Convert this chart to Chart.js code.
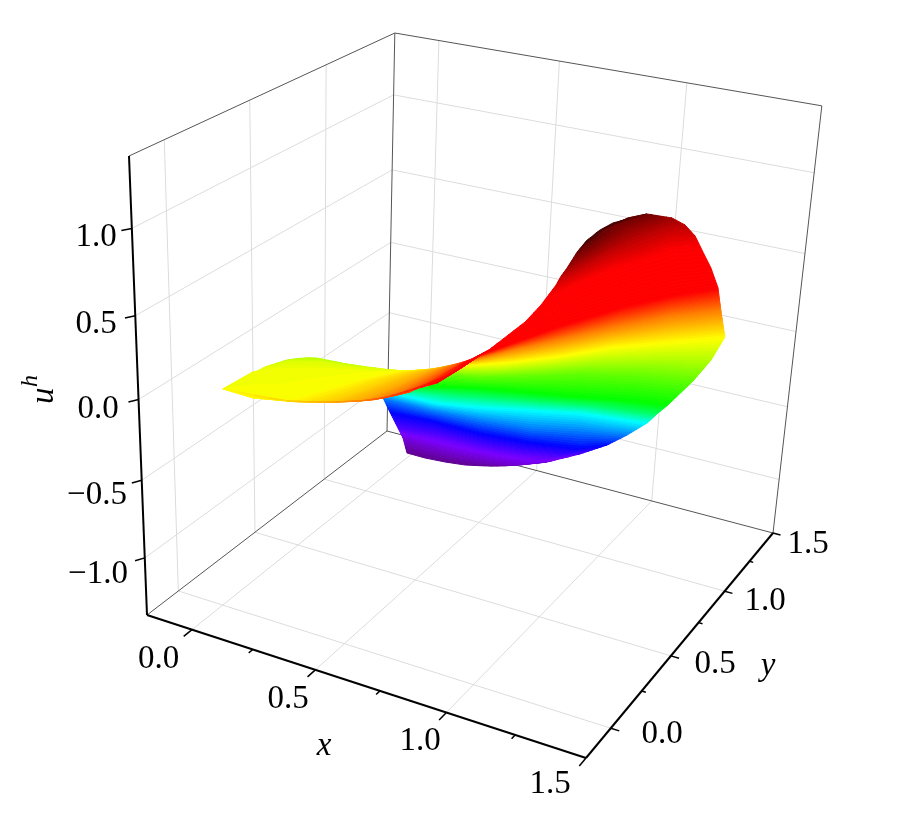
<!DOCTYPE html><html><head><meta charset="utf-8"><style>html,body{margin:0;background:#fff}canvas{display:block}</style>
<script src="https://cdn.jsdelivr.net/npm/chart.js@4"></script></head><body><canvas id="c" width="900" height="818"></canvas>
<script>
const xTicks=[0,0.5,1,1.5], yTicks=[0,0.5,1,1.5], zTicks=[1,0.5,0,-0.5,-1];
const xMinor=[0.25,0.75,1.25], yMinor=[0.25,0.75,1.25];
const xLabels=['0.0','0.5','1.0','1.5'], yLabels=['0.0','0.5','1.0','1.5'], zLabels=['1.0','0.5','0.0','\u22120.5','\u22121.0'];
const xr=[-0.19,1.5], yr=[-0.19,1.5], zr=[-1.38,1.4];
const fanU=[-1.0,-0.9,-0.8,-0.7,-0.58,-0.45,-0.3,-0.2,-0.05,0.08,0.2,0.4,0.6,0.72,0.78,0.85,0.9,0.95,1.03,1.1];
const fanX=[[.196,.275,.356,.433,.501,.566],[.178,.319,.443,.543,.661,.737],[.179,.343,.511,.664,.790,.862],[.145,.307,.519,.710,.889,.964],[.137,.337,.534,.721,.888,1.049],[.248,.407,.556,.723,.889,1.131],[.376,.515,.633,.801,.967,1.200],[.467,.625,.791,.960,1.105,1.250],[.580,.670,.815,.957,1.143,1.318],[.662,.764,.895,1.030,1.195,1.365],[.738,.847,.969,1.092,1.242,1.389],[.860,.930,1.021,1.130,1.256,1.385],[.981,1.030,1.089,1.198,1.293,1.404],[1.052,1.090,1.150,1.219,1.298,1.379],[1.071,1.098,1.147,1.206,1.261,1.334],[1.083,1.115,1.147,1.195,1.229,1.294],[1.095,1.118,1.139,1.174,1.211,1.254],[1.113,1.128,1.139,1.160,1.201,1.220],[1.132,1.134,1.135,1.127,1.145,1.183],[1.159,1.159,1.159,1.157,1.157,1.166]];
const fanY=[[.971,.970,.980,.997,1.029,1.068],[.969,.965,.972,.984,.998,1.071],[.926,.956,.960,.985,1.023,1.085],[.922,.940,.940,.968,1.019,1.092],[.882,.883,.903,.939,1.011,1.069],[.796,.803,.854,.926,.997,1.047],[.689,.734,.777,.839,.902,.957],[.633,.710,.771,.826,.885,.926],[.580,.616,.713,.819,.912,.970],[.478,.540,.658,.789,.908,1.001],[.387,.481,.612,.774,.914,1.053],[.214,.340,.489,.670,.857,.996],[.019,.164,.329,.577,.744,.893],[.147,.320,.492,.654,.804,.875],[.217,.386,.555,.703,.842,.908],[.295,.442,.604,.738,.866,.928],[.303,.446,.592,.739,.860,.931],[.304,.443,.573,.724,.836,.893],[.331,.423,.496,.607,.694,.761],[.341,.356,.376,.411,.442,.521]];
const lobeU=[0.08,0.15,0.17,0.2,0.27,0.33,0.4,0.48,0.6,0.7];
const lobeX=[[.118,.141,.166,.197,.234,.272,.304],[.135,.171,.228,.289,.359,.426,.493],[.126,.137,.172,.253,.357,.464,.563],[.148,.267,.372,.433,.491,.558,.621],[.420,.458,.531,.579,.621,.658,.694],[.570,.605,.654,.684,.712,.731,.754],[.698,.726,.748,.772,.786,.799,.814],[.798,.824,.847,.858,.866,.875,.877],[.959,.963,.969,.970,.964,.966,.968],[1.032,1.033,1.036,1.039,1.040,1.041,1.042]];
const lobeY=[[.244,.271,.295,.311,.314,.318,.318],[.079,.148,.183,.210,.224,.242,.273],[-.158,.003,.052,.110,.164,.211,.271],[-.189,-.196,-.159,-.026,.099,.212,.269],[-.234,-.219,-.175,-.051,.080,.166,.215],[-.240,-.219,-.181,-.077,.035,.118,.177],[-.257,-.232,-.202,-.138,-.035,.052,.123],[-.291,-.250,-.212,-.138,-.074,-.007,.055],[-.250,-.189,-.135,-.092,-.061,-.051,-.042],[-.226,-.183,-.144,-.112,-.086,-.076,-.071]];
const A=[147,615],B=[586,758],C=[773,533],D=[387,431],Ap=[129,156],Dp=[393,33];
const dx1=B[0]-C[0],dx2=D[0]-C[0],sx=A[0]-B[0]+C[0]-D[0],dy1=B[1]-C[1],dy2=D[1]-C[1],sy=A[1]-B[1]+C[1]-D[1];
const den=dx1*dy2-dx2*dy1,g=(sx*dy2-dx2*sy)/den,h=(dx1*sy-sx*dy1)/den;
const a=B[0]-A[0]+g*B[0],b=D[0]-A[0]+h*D[0],c=A[0],d=B[1]-A[1]+g*B[1],e=D[1]-A[1]+h*D[1],f=A[1];
const al=(Dp[1]*h-e)/(Ap[1]-Dp[1]);
const k1=al*Ap[0]-c,k2=al*Ap[1]-f,k3=al-1;
function proj(x,y,z){const X=(x-xr[0])/(xr[1]-xr[0]),Y=(y-yr[0])/(yr[1]-yr[0]),W=(z-zr[0])/(zr[1]-zr[0]);const q=g*X+h*Y+k3*W+1;return {x:(a*X+b*Y+k1*W+c)/q,y:(d*X+e*Y+k2*W+f)/q};}
const stops=[[-1.1,[80,0,120]],[-1.0,[96,0,140]],[-0.85,[122,0,255]],[-0.7,[0,0,255]],[-0.45,[0,255,255]],[-0.2,[0,255,0]],[0.2,[255,255,0]],[0.6,[255,0,0]],[0.8,[255,0,0]],[1.1,[64,0,0]]];
function cmap(u){for(let i=1;i<stops.length;i++){if(u<=stops[i][0]){const t=Math.max(0,(u-stops[i-1][0])/(stops[i][0]-stops[i-1][0]));const p=stops[i-1][1],q=stops[i][1];return `rgb(${[0,1,2].map(k=>Math.round(p[k]+(q[k]-p[k])*t)).join(',')})`;}}return 'rgb(64,0,0)';}
const sets=[];
function line(pts,color,w){sets.push({data:pts,showLine:true,borderColor:color,borderWidth:w,pointRadius:0,fill:false});}
function seg(p,q,color,w){line([proj(...p),proj(...q)],color,w);}
const gc='#dcdcdc',fc='#555555';
const [x0,x1]=xr,[y0,y1]=yr,[z0,z1]=zr;
xTicks.slice(0,3).forEach(v=>{seg([v,y0,z0],[v,y1,z0],gc,1);seg([v,y1,z0],[v,y1,z1],gc,1);});
yTicks.slice(0,3).forEach(v=>{seg([x0,v,z0],[x1,v,z0],gc,1);seg([x0,v,z0],[x0,v,z1],gc,1);});
zTicks.forEach(v=>{seg([x0,y0,v],[x0,y1,v],gc,1);seg([x0,y1,v],[x1,y1,v],gc,1);});
seg([x0,y0,z0],[x0,y1,z0],fc,1);seg([x0,y1,z0],[x1,y1,z0],fc,1);seg([x0,y1,z0],[x0,y1,z1],fc,1);
seg([x0,y0,z1],[x0,y1,z1],fc,1);seg([x0,y1,z1],[x1,y1,z1],fc,1);seg([x1,y1,z0],[x1,y1,z1],fc,1);
const ax='#000000';
seg([x0,y0,z0],[x1,y0,z0],ax,2);seg([x1,y0,z0],[x1,y1,z0],ax,2);seg([x0,y0,z0],[x0,y0,z1],ax,2);
xTicks.forEach(v=>seg([v,y0,z0],[v,y0-0.05,z0],ax,1.5));
xMinor.forEach(v=>seg([v,y0,z0],[v,y0-0.025,z0],ax,1.5));
yTicks.forEach(v=>seg([x1,v,z0],[x1+0.03,v,z0],ax,1.5));
yMinor.forEach(v=>seg([x1,v,z0],[x1+0.015,v,z0],ax,1.5));
zTicks.forEach(v=>seg([x0,y0,v],[x0-0.017,y0-0.033,v],ax,1.5));
function surface(X,Y,U){for(let r=0;r+1<U.length;r++){const K=Math.max(1,Math.ceil(Math.abs(U[r+1]-U[r])/0.018));for(let j=0;j<K;j++){const t0=j/K,t1=(j+1)/K;const row=t=>X[r].map((_,i)=>proj(X[r][i]+(X[r+1][i]-X[r][i])*t,Y[r][i]+(Y[r+1][i]-Y[r][i])*t,U[r]+(U[r+1]-U[r])*t));const top=row(t0),bot=row(t1).reverse();const col=cmap(U[r]+(U[r+1]-U[r])*(t0+t1)/2);const pts=top.concat(bot);pts.push(top[0]);sets.push({data:pts,showLine:true,borderColor:col,borderWidth:1,backgroundColor:col,pointRadius:0,fill:'shape'});}}}
surface(fanX,fanY,fanU);
surface(lobeX,lobeY,lobeU);
sets.forEach((s,i)=>{s.order=sets.length-i;});
const F='"Liberation Serif"';
const labelPos={x:[[158.7,657],[288,697],[420,739],[550,782]],y:[[662,732],[715,662],[765,599],[808,542]],z:[[96,235],[96,322],[98,407],[97,493],[98,572]]};
const textPlugin={id:'texts',afterDraw(ch){const t=ch.ctx;t.save();t.fillStyle='#000';t.textAlign='center';t.textBaseline='alphabetic';t.font=`33px ${F}`;
const put=(L,P)=>L.forEach((s,i)=>t.fillText(s,P[i][0],P[i][1]+11));put(xLabels,labelPos.x);put(yLabels,labelPos.y);put(zLabels,labelPos.z);
t.font=`italic 33px ${F}`;t.fillText('x',324,755);t.fillText('y',768,675);
t.translate(53,404);t.rotate(-Math.PI/2);t.textAlign='left';t.fillText('u',0,0);t.font=`italic 24px ${F}`;t.fillText('h',17,-16);t.restore();}};
new Chart(document.getElementById('c'),{type:'scatter',data:{datasets:sets},plugins:[textPlugin],options:{responsive:false,animation:false,events:[],layout:{padding:0},plugins:{legend:{display:false},tooltip:{enabled:false}},scales:{x:{type:'linear',min:0,max:900,display:false},y:{type:'linear',min:0,max:818,reverse:true,display:false}}}});
</script></body></html>
